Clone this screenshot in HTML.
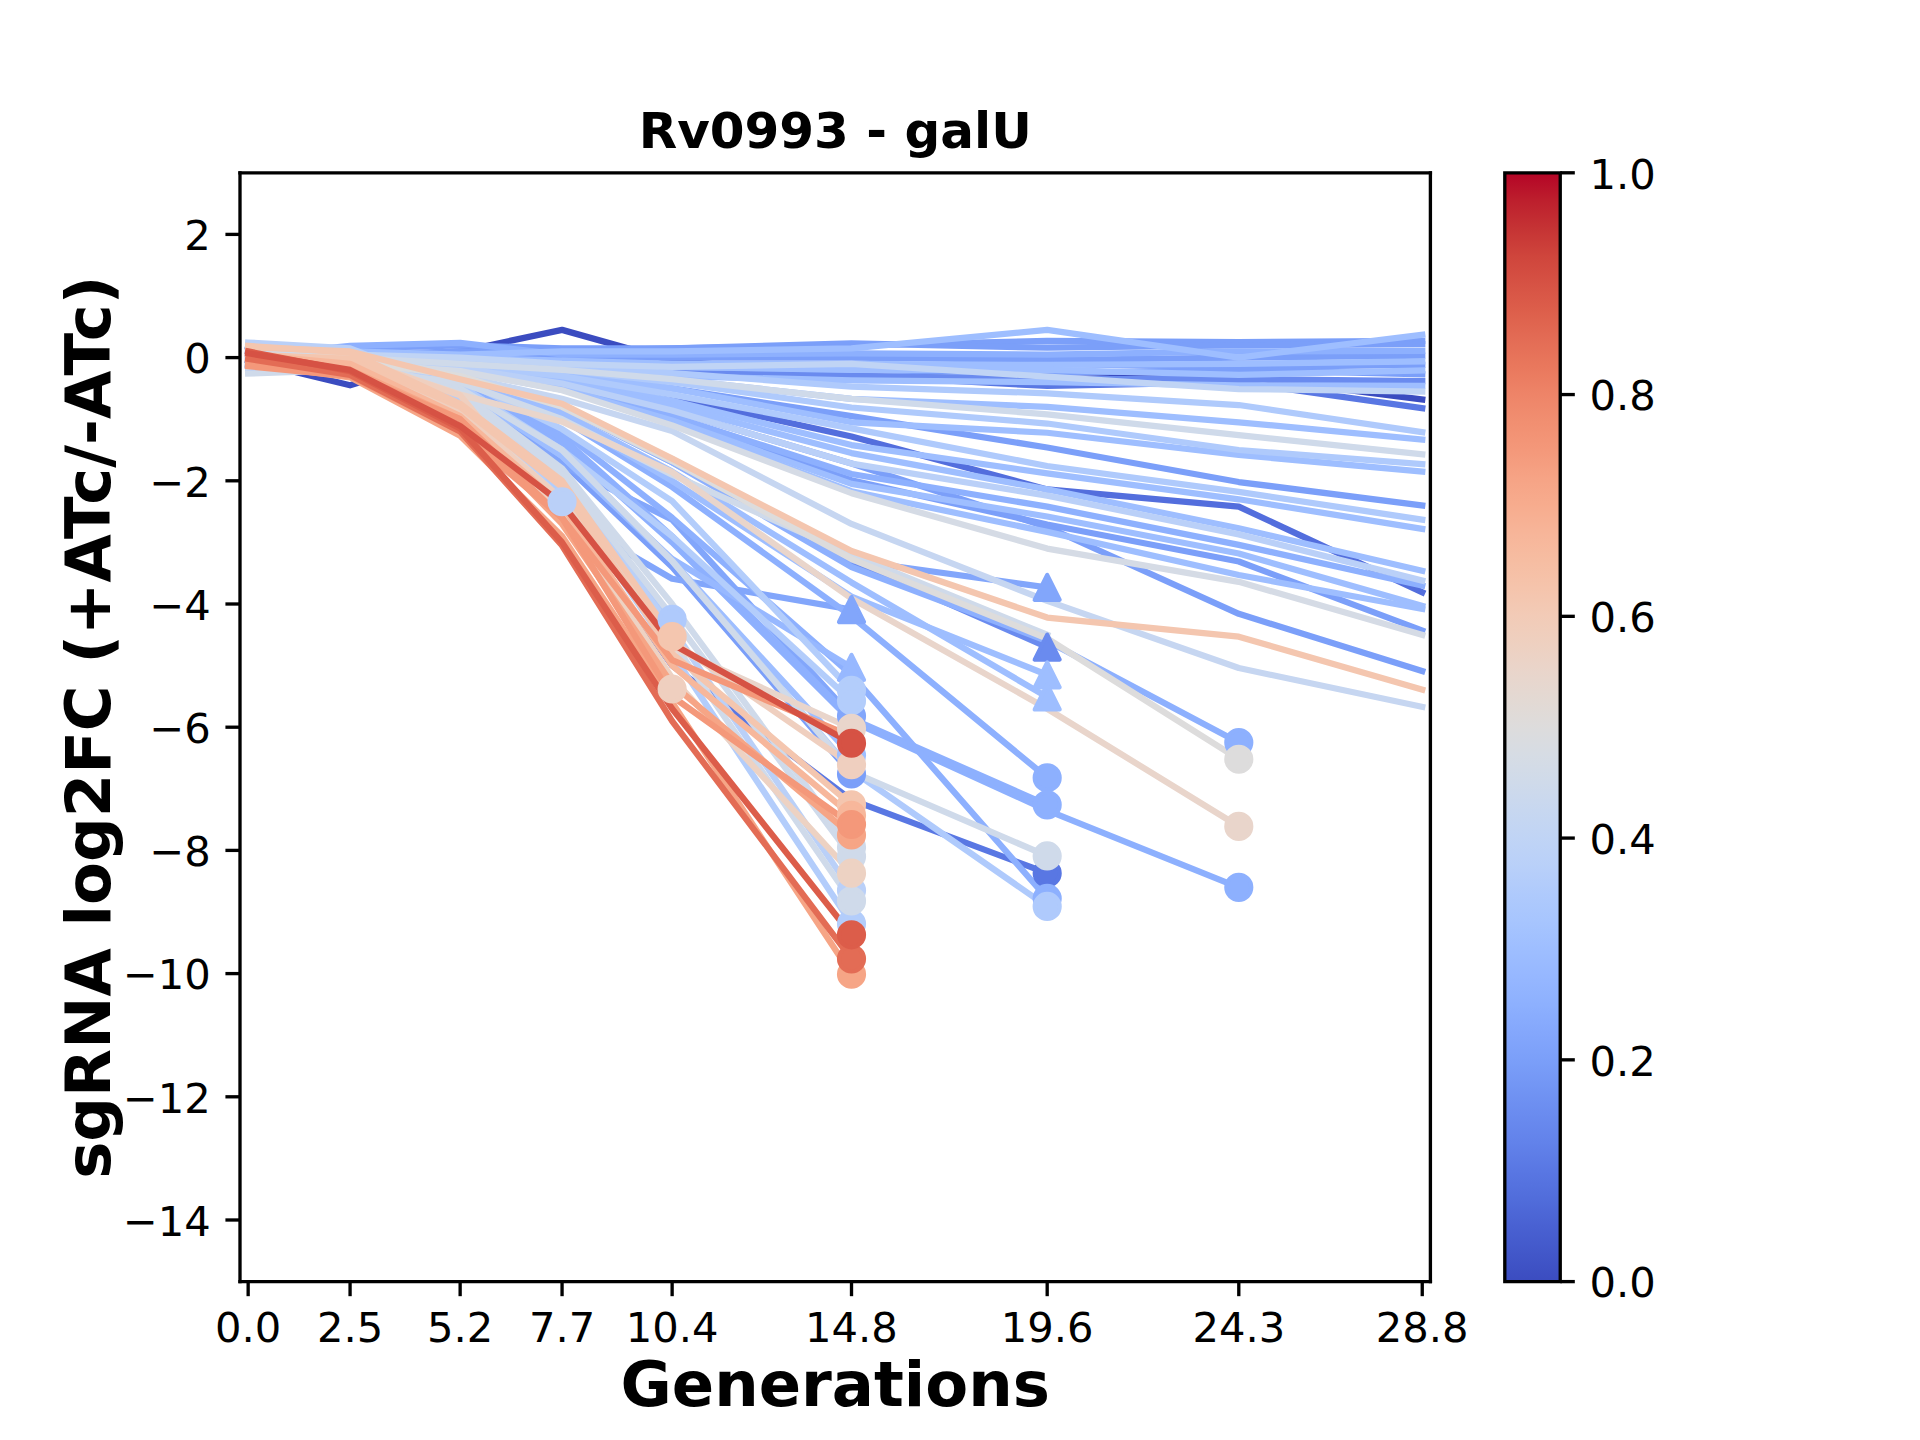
<!DOCTYPE html>
<html><head><meta charset="utf-8"><title>Rv0993 - galU</title>
<style>html,body{margin:0;padding:0;background:#fff;overflow:hidden}svg{display:block}</style></head>
<body>
<svg width="1920" height="1440" viewBox="0 0 460.8 345.6" version="1.1">
 
 <defs>
  <style type="text/css">*{stroke-linejoin: round; stroke-linecap: butt}</style>
 </defs>
 <g id="figure_1">
  <g id="patch_1">
   <path d="M 0 345.6 
L 460.8 345.6 
L 460.8 0 
L 0 0 
z
" style="fill: #ffffff"/>
  </g>
  <g id="axes_1">
   <g id="patch_2">
    <path d="M 57.6 307.584 
L 343.296 307.584 
L 343.296 41.472 
L 57.6 41.472 
z
" style="fill: #ffffff"/>
   </g>
   <g id="matplotlib.axis_1">
    <g id="xtick_1">
     <g id="line2d_1">
      
      <g>
       <path d="M 0 0 L 0 3.5" transform="translate(59.556822 307.584)" style="stroke: #000000; stroke-width: 0.8"/>
      </g>
     </g>
     <g id="text_1">
      <text style="font-size: 10px; font-family: 'DejaVu Sans', 'Liberation Sans', sans-serif; text-anchor: middle" x="59.556822" y="322.182437" transform="rotate(-0 59.556822 322.182437)">0.0</text>
     </g>
    </g>
    <g id="xtick_2">
     <g id="line2d_2">
      <g>
       <path d="M 0 0 L 0 3.5" transform="translate(84.017096 307.584)" style="stroke: #000000; stroke-width: 0.8"/>
      </g>
     </g>
     <g id="text_2">
      <text style="font-size: 10px; font-family: 'DejaVu Sans', 'Liberation Sans', sans-serif; text-anchor: middle" x="84.017096" y="322.182437" transform="rotate(-0 84.017096 322.182437)">2.5</text>
     </g>
    </g>
    <g id="xtick_3">
     <g id="line2d_3">
      <g>
       <path d="M 0 0 L 0 3.5" transform="translate(110.434192 307.584)" style="stroke: #000000; stroke-width: 0.8"/>
      </g>
     </g>
     <g id="text_3">
      <text style="font-size: 10px; font-family: 'DejaVu Sans', 'Liberation Sans', sans-serif; text-anchor: middle" x="110.434192" y="322.182437" transform="rotate(-0 110.434192 322.182437)">5.2</text>
     </g>
    </g>
    <g id="xtick_4">
     <g id="line2d_4">
      <g>
       <path d="M 0 0 L 0 3.5" transform="translate(134.894466 307.584)" style="stroke: #000000; stroke-width: 0.8"/>
      </g>
     </g>
     <g id="text_4">
      <text style="font-size: 10px; font-family: 'DejaVu Sans', 'Liberation Sans', sans-serif; text-anchor: middle" x="134.894466" y="322.182437" transform="rotate(-0 134.894466 322.182437)">7.7</text>
     </g>
    </g>
    <g id="xtick_5">
     <g id="line2d_5">
      <g>
       <path d="M 0 0 L 0 3.5" transform="translate(161.311562 307.584)" style="stroke: #000000; stroke-width: 0.8"/>
      </g>
     </g>
     <g id="text_5">
      <text style="font-size: 10px; font-family: 'DejaVu Sans', 'Liberation Sans', sans-serif; text-anchor: middle" x="161.311562" y="322.182437" transform="rotate(-0 161.311562 322.182437)">10.4</text>
     </g>
    </g>
    <g id="xtick_6">
     <g id="line2d_6">
      <g>
       <path d="M 0 0 L 0 3.5" transform="translate(204.361644 307.584)" style="stroke: #000000; stroke-width: 0.8"/>
      </g>
     </g>
     <g id="text_6">
      <text style="font-size: 10px; font-family: 'DejaVu Sans', 'Liberation Sans', sans-serif; text-anchor: middle" x="204.361644" y="322.182437" transform="rotate(-0 204.361644 322.182437)">14.8</text>
     </g>
    </g>
    <g id="xtick_7">
     <g id="line2d_7">
      <g>
       <path d="M 0 0 L 0 3.5" transform="translate(251.32537 307.584)" style="stroke: #000000; stroke-width: 0.8"/>
      </g>
     </g>
     <g id="text_7">
      <text style="font-size: 10px; font-family: 'DejaVu Sans', 'Liberation Sans', sans-serif; text-anchor: middle" x="251.32537" y="322.182437" transform="rotate(-0 251.32537 322.182437)">19.6</text>
     </g>
    </g>
    <g id="xtick_8">
     <g id="line2d_8">
      <g>
       <path d="M 0 0 L 0 3.5" transform="translate(297.310685 307.584)" style="stroke: #000000; stroke-width: 0.8"/>
      </g>
     </g>
     <g id="text_8">
      <text style="font-size: 10px; font-family: 'DejaVu Sans', 'Liberation Sans', sans-serif; text-anchor: middle" x="297.310685" y="322.182437" transform="rotate(-0 297.310685 322.182437)">24.3</text>
     </g>
    </g>
    <g id="xtick_9">
     <g id="line2d_9">
      <g>
       <path d="M 0 0 L 0 3.5" transform="translate(341.339178 307.584)" style="stroke: #000000; stroke-width: 0.8"/>
      </g>
     </g>
     <g id="text_9">
      <text style="font-size: 10px; font-family: 'DejaVu Sans', 'Liberation Sans', sans-serif; text-anchor: middle" x="341.339178" y="322.182437" transform="rotate(-0 341.339178 322.182437)">28.8</text>
     </g>
    </g>
    <g id="text_10">
     <text style="font-weight: 700; font-size: 15px; font-family: 'DejaVu Sans', 'Liberation Sans', sans-serif; text-anchor: middle" x="200.448" y="337.499781" transform="rotate(-0 200.448 337.499781)">Generations</text>
    </g>
   </g>
   <g id="matplotlib.axis_2">
    <g id="ytick_1">
     <g id="line2d_10">
      
      <g>
       <path d="M 0 0 L -3.5 0" transform="translate(57.6 292.8)" style="stroke: #000000; stroke-width: 0.8"/>
      </g>
     </g>
     <g id="text_11">
      <text style="font-size: 10px; font-family: 'DejaVu Sans', 'Liberation Sans', sans-serif; text-anchor: end" x="50.6" y="296.599219" transform="rotate(-0 50.6 296.599219)">−14</text>
     </g>
    </g>
    <g id="ytick_2">
     <g id="line2d_11">
      <g>
       <path d="M 0 0 L -3.5 0" transform="translate(57.6 263.232)" style="stroke: #000000; stroke-width: 0.8"/>
      </g>
     </g>
     <g id="text_12">
      <text style="font-size: 10px; font-family: 'DejaVu Sans', 'Liberation Sans', sans-serif; text-anchor: end" x="50.6" y="267.031219" transform="rotate(-0 50.6 267.031219)">−12</text>
     </g>
    </g>
    <g id="ytick_3">
     <g id="line2d_12">
      <g>
       <path d="M 0 0 L -3.5 0" transform="translate(57.6 233.664)" style="stroke: #000000; stroke-width: 0.8"/>
      </g>
     </g>
     <g id="text_13">
      <text style="font-size: 10px; font-family: 'DejaVu Sans', 'Liberation Sans', sans-serif; text-anchor: end" x="50.6" y="237.463219" transform="rotate(-0 50.6 237.463219)">−10</text>
     </g>
    </g>
    <g id="ytick_4">
     <g id="line2d_13">
      <g>
       <path d="M 0 0 L -3.5 0" transform="translate(57.6 204.096)" style="stroke: #000000; stroke-width: 0.8"/>
      </g>
     </g>
     <g id="text_14">
      <text style="font-size: 10px; font-family: 'DejaVu Sans', 'Liberation Sans', sans-serif; text-anchor: end" x="50.6" y="207.895219" transform="rotate(-0 50.6 207.895219)">−8</text>
     </g>
    </g>
    <g id="ytick_5">
     <g id="line2d_14">
      <g>
       <path d="M 0 0 L -3.5 0" transform="translate(57.6 174.528)" style="stroke: #000000; stroke-width: 0.8"/>
      </g>
     </g>
     <g id="text_15">
      <text style="font-size: 10px; font-family: 'DejaVu Sans', 'Liberation Sans', sans-serif; text-anchor: end" x="50.6" y="178.327219" transform="rotate(-0 50.6 178.327219)">−6</text>
     </g>
    </g>
    <g id="ytick_6">
     <g id="line2d_15">
      <g>
       <path d="M 0 0 L -3.5 0" transform="translate(57.6 144.96)" style="stroke: #000000; stroke-width: 0.8"/>
      </g>
     </g>
     <g id="text_16">
      <text style="font-size: 10px; font-family: 'DejaVu Sans', 'Liberation Sans', sans-serif; text-anchor: end" x="50.6" y="148.759219" transform="rotate(-0 50.6 148.759219)">−4</text>
     </g>
    </g>
    <g id="ytick_7">
     <g id="line2d_16">
      <g>
       <path d="M 0 0 L -3.5 0" transform="translate(57.6 115.392)" style="stroke: #000000; stroke-width: 0.8"/>
      </g>
     </g>
     <g id="text_17">
      <text style="font-size: 10px; font-family: 'DejaVu Sans', 'Liberation Sans', sans-serif; text-anchor: end" x="50.6" y="119.191219" transform="rotate(-0 50.6 119.191219)">−2</text>
     </g>
    </g>
    <g id="ytick_8">
     <g id="line2d_17">
      <g>
       <path d="M 0 0 L -3.5 0" transform="translate(57.6 85.824)" style="stroke: #000000; stroke-width: 0.8"/>
      </g>
     </g>
     <g id="text_18">
      <text style="font-size: 10px; font-family: 'DejaVu Sans', 'Liberation Sans', sans-serif; text-anchor: end" x="50.6" y="89.623219" transform="rotate(-0 50.6 89.623219)">0</text>
     </g>
    </g>
    <g id="ytick_9">
     <g id="line2d_18">
      <g>
       <path d="M 0 0 L -3.5 0" transform="translate(57.6 56.256)" style="stroke: #000000; stroke-width: 0.8"/>
      </g>
     </g>
     <g id="text_19">
      <text style="font-size: 10px; font-family: 'DejaVu Sans', 'Liberation Sans', sans-serif; text-anchor: end" x="50.6" y="60.055219" transform="rotate(-0 50.6 60.055219)">2</text>
     </g>
    </g>
    <g id="text_20">
     <text style="font-weight: 700; font-size: 15px; font-family: 'DejaVu Sans', 'Liberation Sans', sans-serif; text-anchor: middle" x="26.338594" y="174.528" transform="rotate(-90 26.338594 174.528)">sgRNA log2FC (+ATc/-ATc)</text>
    </g>
   </g>
   <g id="line2d_19">
    <path d="M 59.556822 86.5632 
L 84.017096 92.4768 
L 110.434192 84.3456 
L 134.894466 79.1712 
L 161.311562 86.5632 
L 204.361644 90.2592 
L 251.32537 90.9984 
L 297.310685 90.2592 
L 341.339178 95.87712 
" clip-path="url(#p991a9399cb)" style="fill: none; stroke: #3b4cc0; stroke-width: 1.5; stroke-linecap: square"/>
   </g>
   <g id="line2d_20">
    <path d="M 59.556822 83.074176 
L 84.017096 85.824 
L 110.434192 87.74592 
L 134.894466 90.40704 
L 161.311562 95.28576 
L 204.361644 104.74752 
L 251.32537 117.46176 
L 297.310685 121.60128 
L 341.339178 142.15104 
" clip-path="url(#p991a9399cb)" style="fill: none; stroke: #536edd; stroke-width: 1.5; stroke-linecap: square"/>
   </g>
   <g id="line2d_21">
    <path d="M 59.556822 86.5632 
L 84.017096 85.824 
L 110.434192 87.3024 
L 134.894466 88.7808 
L 161.311562 89.52 
L 204.361644 90.11136 
L 251.32537 92.62464 
L 297.310685 91.7376 
L 341.339178 97.94688 
" clip-path="url(#p991a9399cb)" style="fill: none; stroke: #5977e3; stroke-width: 1.5; stroke-linecap: square"/>
   </g>
   <g id="line2d_22">
    <path d="M 59.556822 83.118528 
L 84.017096 84.656064 
L 110.434192 99.1296 
L 134.894466 122.784 
L 161.311562 159.744 
L 204.361644 191.97312 
L 251.32537 209.56608 
" clip-path="url(#p991a9399cb)" style="fill: none; stroke: #5977e3; stroke-width: 1.5; stroke-linecap: square"/>
   </g>
   <g id="line2d_23">
    <path d="M 59.556822 86.030976 
L 84.017096 85.0848 
L 110.434192 86.5632 
L 134.894466 88.0416 
L 161.311562 89.52 
L 204.361644 90.2592 
L 251.32537 90.9984 
L 297.310685 90.9984 
L 341.339178 91.44192 
" clip-path="url(#p991a9399cb)" style="fill: none; stroke: #6a8bef; stroke-width: 1.5; stroke-linecap: square"/>
   </g>
   <g id="line2d_24">
    <path d="M 59.556822 82.881984 
L 84.017096 84.064704 
L 110.434192 90.2592 
L 134.894466 97.6512 
L 161.311562 110.2176 
L 204.361644 134.6112 
L 251.32537 155.3088 
" clip-path="url(#p991a9399cb)" style="fill: none; stroke: #6a8bef; stroke-width: 1.5; stroke-linecap: square"/>
   </g>
   <g id="line2d_25">
    <path d="M 59.556822 86.104896 
L 84.017096 83.6064 
L 110.434192 82.8672 
L 134.894466 83.6064 
L 161.311562 83.6064 
L 204.361644 82.8672 
L 251.32537 81.83232 
L 297.310685 82.128 
L 341.339178 81.83232 
" clip-path="url(#p991a9399cb)" style="fill: none; stroke: #7b9ff9; stroke-width: 1.5; stroke-linecap: square"/>
   </g>
   <g id="line2d_26">
    <path d="M 59.556822 84.3456 
L 84.017096 85.0848 
L 110.434192 84.3456 
L 134.894466 84.3456 
L 161.311562 83.6064 
L 204.361644 82.42368 
L 251.32537 83.45856 
L 297.310685 82.8672 
L 341.339178 82.57152 
" clip-path="url(#p991a9399cb)" style="fill: none; stroke: #7b9ff9; stroke-width: 1.5; stroke-linecap: square"/>
   </g>
   <g id="line2d_27">
    <path d="M 59.556822 85.0848 
L 84.017096 85.0848 
L 110.434192 85.824 
L 134.894466 85.824 
L 161.311562 85.824 
L 204.361644 85.824 
L 251.32537 86.41536 
L 297.310685 85.824 
L 341.339178 85.38048 
" clip-path="url(#p991a9399cb)" style="fill: none; stroke: #7b9ff9; stroke-width: 1.5; stroke-linecap: square"/>
   </g>
   <g id="line2d_28">
    <path d="M 59.556822 83.31072 
L 84.017096 85.0848 
L 110.434192 85.0848 
L 134.894466 87.3024 
L 161.311562 87.3024 
L 204.361644 88.0416 
L 251.32537 87.3024 
L 297.310685 88.0416 
L 341.339178 87.59808 
" clip-path="url(#p991a9399cb)" style="fill: none; stroke: #7b9ff9; stroke-width: 1.5; stroke-linecap: square"/>
   </g>
   <g id="line2d_29">
    <path d="M 59.556822 87.3024 
L 84.017096 85.824 
L 110.434192 84.3456 
L 134.894466 86.5632 
L 161.311562 88.0416 
L 204.361644 88.7808 
L 251.32537 89.52 
L 297.310685 88.7808 
L 341.339178 89.81568 
" clip-path="url(#p991a9399cb)" style="fill: none; stroke: #7b9ff9; stroke-width: 1.5; stroke-linecap: square"/>
   </g>
   <g id="line2d_30">
    <path d="M 59.556822 85.055232 
L 84.017096 85.0848 
L 110.434192 87.3024 
L 134.894466 89.52 
L 161.311562 93.216 
L 204.361644 99.8688 
L 251.32537 107.40864 
L 297.310685 115.68768 
L 341.339178 121.3056 
" clip-path="url(#p991a9399cb)" style="fill: none; stroke: #7b9ff9; stroke-width: 1.5; stroke-linecap: square"/>
   </g>
   <g id="line2d_31">
    <path d="M 59.556822 85.661376 
L 84.017096 87.805056 
L 110.434192 88.7808 
L 134.894466 92.92032 
L 161.311562 100.608 
L 204.361644 115.24416 
L 251.32537 125.88864 
L 297.310685 134.75904 
L 341.339178 151.31712 
" clip-path="url(#p991a9399cb)" style="fill: none; stroke: #7b9ff9; stroke-width: 1.5; stroke-linecap: square"/>
   </g>
   <g id="line2d_32">
    <path d="M 59.556822 88.603392 
L 84.017096 86.1936 
L 110.434192 88.33728 
L 134.894466 91.88544 
L 161.311562 98.53824 
L 204.361644 111.25248 
L 251.32537 126.48 
L 297.310685 147.32544 
L 341.339178 161.07456 
" clip-path="url(#p991a9399cb)" style="fill: none; stroke: #7b9ff9; stroke-width: 1.5; stroke-linecap: square"/>
   </g>
   <g id="line2d_33">
    <path d="M 59.556822 88.18944 
L 84.017096 87.805056 
L 110.434192 93.216 
L 134.894466 110.9568 
L 161.311562 136.0896 
L 204.361644 185.76384 
" clip-path="url(#p991a9399cb)" style="fill: none; stroke: #7b9ff9; stroke-width: 1.5; stroke-linecap: square"/>
   </g>
   <g id="line2d_34">
    <path d="M 59.556822 86.075328 
L 84.017096 86.9328 
L 110.434192 90.2592 
L 134.894466 97.6512 
L 161.311562 110.9568 
L 204.361644 134.46336 
L 251.32537 140.96832 
" clip-path="url(#p991a9399cb)" style="fill: none; stroke: #82a6fb; stroke-width: 1.5; stroke-linecap: square"/>
   </g>
   <g id="line2d_35">
    <path d="M 59.556822 82.985472 
L 84.017096 86.459712 
L 110.434192 96.1728 
L 134.894466 123.5232 
L 161.311562 138.89856 
L 204.361644 146.29056 
" clip-path="url(#p991a9399cb)" style="fill: none; stroke: #82a6fb; stroke-width: 1.5; stroke-linecap: square"/>
   </g>
   <g id="line2d_36">
    <path d="M 59.556822 83.074176 
L 84.017096 85.01088 
L 110.434192 91.7376 
L 134.894466 111.54816 
L 161.311562 124.70592 
L 204.361644 171.86688 
" clip-path="url(#p991a9399cb)" style="fill: none; stroke: #82a6fb; stroke-width: 1.5; stroke-linecap: square"/>
   </g>
   <g id="line2d_37">
    <path d="M 59.556822 85.469184 
L 84.017096 83.01504 
L 110.434192 82.27584 
L 134.894466 85.0848 
L 161.311562 85.0848 
L 204.361644 84.78912 
L 251.32537 85.0848 
L 297.310685 84.3456 
L 341.339178 84.19776 
" clip-path="url(#p991a9399cb)" style="fill: none; stroke: #8db0fe; stroke-width: 1.5; stroke-linecap: square"/>
   </g>
   <g id="line2d_38">
    <path d="M 59.556822 88.529472 
L 84.017096 84.12384 
L 110.434192 88.63296 
L 134.894466 92.4768 
L 161.311562 99.8688 
L 204.361644 113.76576 
L 251.32537 121.60128 
L 297.310685 130.76736 
L 341.339178 140.5248 
" clip-path="url(#p991a9399cb)" style="fill: none; stroke: #8db0fe; stroke-width: 1.5; stroke-linecap: square"/>
   </g>
   <g id="line2d_39">
    <path d="M 59.556822 85.705728 
L 84.017096 85.483968 
L 110.434192 90.2592 
L 134.894466 97.6512 
L 161.311562 110.9568 
L 204.361644 136.0896 
L 251.32537 153.8304 
L 297.310685 178.224 
" clip-path="url(#p991a9399cb)" style="fill: none; stroke: #8db0fe; stroke-width: 1.5; stroke-linecap: square"/>
   </g>
   <g id="line2d_40">
    <path d="M 59.556822 85.824 
L 84.017096 85.395264 
L 110.434192 93.216 
L 134.894466 106.5216 
L 161.311562 130.176 
L 204.361644 173.0496 
L 251.32537 194.4864 
L 297.310685 212.9664 
" clip-path="url(#p991a9399cb)" style="fill: none; stroke: #8db0fe; stroke-width: 1.5; stroke-linecap: square"/>
   </g>
   <g id="line2d_41">
    <path d="M 59.556822 87.065856 
L 84.017096 87.760704 
L 110.434192 90.9984 
L 134.894466 100.608 
L 161.311562 116.8704 
L 204.361644 147.9168 
L 251.32537 186.65088 
" clip-path="url(#p991a9399cb)" style="fill: none; stroke: #8db0fe; stroke-width: 1.5; stroke-linecap: square"/>
   </g>
   <g id="line2d_42">
    <path d="M 59.556822 84.242112 
L 84.017096 86.444928 
L 110.434192 92.4768 
L 134.894466 105.0432 
L 161.311562 128.6976 
L 204.361644 172.45824 
L 251.32537 193.15584 
" clip-path="url(#p991a9399cb)" style="fill: none; stroke: #8db0fe; stroke-width: 1.5; stroke-linecap: square"/>
   </g>
   <g id="line2d_43">
    <path d="M 59.556822 88.7808 
L 84.017096 87.198912 
L 110.434192 91.7376 
L 134.894466 103.5648 
L 161.311562 124.2624 
L 204.361644 161.9616 
L 251.32537 215.62752 
" clip-path="url(#p991a9399cb)" style="fill: none; stroke: #8db0fe; stroke-width: 1.5; stroke-linecap: square"/>
   </g>
   <g id="line2d_44">
    <path d="M 59.556822 88.352064 
L 84.017096 85.52832 
L 110.434192 92.4768 
L 134.894466 109.4784 
L 161.311562 134.16768 
L 204.361644 160.18752 
" clip-path="url(#p991a9399cb)" style="fill: none; stroke: #97b8ff; stroke-width: 1.5; stroke-linecap: square"/>
   </g>
   <g id="line2d_45">
    <path d="M 59.556822 85.0848 
L 84.017096 84.3456 
L 110.434192 85.0848 
L 134.894466 84.3456 
L 161.311562 84.3456 
L 204.361644 83.6064 
L 251.32537 79.1712 
L 297.310685 85.824 
L 341.339178 80.35392 
" clip-path="url(#p991a9399cb)" style="fill: none; stroke: #9ebeff; stroke-width: 1.5; stroke-linecap: square"/>
   </g>
   <g id="line2d_46">
    <path d="M 59.556822 86.5632 
L 84.017096 84.3456 
L 110.434192 85.824 
L 134.894466 86.5632 
L 161.311562 87.3024 
L 204.361644 87.3024 
L 251.32537 87.59808 
L 297.310685 87.3024 
L 341.339178 86.71104 
" clip-path="url(#p991a9399cb)" style="fill: none; stroke: #9ebeff; stroke-width: 1.5; stroke-linecap: square"/>
   </g>
   <g id="line2d_47">
    <path d="M 59.556822 84.3456 
L 84.017096 85.824 
L 110.434192 87.3024 
L 134.894466 87.3024 
L 161.311562 88.0416 
L 204.361644 88.7808 
L 251.32537 88.7808 
L 297.310685 89.96352 
L 341.339178 88.92864 
" clip-path="url(#p991a9399cb)" style="fill: none; stroke: #9ebeff; stroke-width: 1.5; stroke-linecap: square"/>
   </g>
   <g id="line2d_48">
    <path d="M 59.556822 85.0848 
L 84.017096 86.016192 
L 110.434192 86.5632 
L 134.894466 88.7808 
L 161.311562 90.2592 
L 204.361644 91.29408 
L 251.32537 91.7376 
L 297.310685 92.4768 
L 341.339178 92.62464 
" clip-path="url(#p991a9399cb)" style="fill: none; stroke: #9ebeff; stroke-width: 1.5; stroke-linecap: square"/>
   </g>
   <g id="line2d_49">
    <path d="M 59.556822 85.0848 
L 84.017096 85.824 
L 110.434192 86.85888 
L 134.894466 88.33728 
L 161.311562 90.9984 
L 204.361644 95.72928 
L 251.32537 97.6512 
L 297.310685 101.3472 
L 341.339178 105.48672 
" clip-path="url(#p991a9399cb)" style="fill: none; stroke: #9ebeff; stroke-width: 1.5; stroke-linecap: square"/>
   </g>
   <g id="line2d_50">
    <path d="M 59.556822 85.75008 
L 84.017096 85.824 
L 110.434192 87.3024 
L 134.894466 89.52 
L 161.311562 93.216 
L 204.361644 101.3472 
L 251.32537 103.86048 
L 297.310685 109.18272 
L 341.339178 113.1744 
" clip-path="url(#p991a9399cb)" style="fill: none; stroke: #9ebeff; stroke-width: 1.5; stroke-linecap: square"/>
   </g>
   <g id="line2d_51">
    <path d="M 59.556822 88.219008 
L 84.017096 85.824 
L 110.434192 87.89376 
L 134.894466 90.9984 
L 161.311562 96.1728 
L 204.361644 106.81728 
L 251.32537 113.61792 
L 297.310685 119.8272 
L 341.339178 126.92352 
" clip-path="url(#p991a9399cb)" style="fill: none; stroke: #9ebeff; stroke-width: 1.5; stroke-linecap: square"/>
   </g>
   <g id="line2d_52">
    <path d="M 59.556822 86.991936 
L 84.017096 87.686784 
L 110.434192 88.0416 
L 134.894466 91.44192 
L 161.311562 97.35552 
L 204.361644 108.7392 
L 251.32537 117.46176 
L 297.310685 126.77568 
L 341.339178 136.97664 
" clip-path="url(#p991a9399cb)" style="fill: none; stroke: #9ebeff; stroke-width: 1.5; stroke-linecap: square"/>
   </g>
   <g id="line2d_53">
    <path d="M 59.556822 84.907392 
L 84.017096 85.587456 
L 110.434192 88.7808 
L 134.894466 93.216 
L 161.311562 100.90368 
L 204.361644 116.1312 
L 251.32537 123.96672 
L 297.310685 132.83712 
L 341.339178 145.40352 
" clip-path="url(#p991a9399cb)" style="fill: none; stroke: #9ebeff; stroke-width: 1.5; stroke-linecap: square"/>
   </g>
   <g id="line2d_54">
    <path d="M 59.556822 87.849408 
L 84.017096 87.982464 
L 110.434192 89.07648 
L 134.894466 93.51168 
L 161.311562 101.79072 
L 204.361644 117.90528 
L 251.32537 127.66272 
L 297.310685 138.01152 
L 341.339178 146.14272 
" clip-path="url(#p991a9399cb)" style="fill: none; stroke: #9ebeff; stroke-width: 1.5; stroke-linecap: square"/>
   </g>
   <g id="line2d_55">
    <path d="M 59.556822 83.813376 
L 84.017096 85.217856 
L 110.434192 90.9984 
L 134.894466 99.8688 
L 161.311562 115.392 
L 204.361644 143.18592 
L 251.32537 161.9616 
" clip-path="url(#p991a9399cb)" style="fill: none; stroke: #9ebeff; stroke-width: 1.5; stroke-linecap: square"/>
   </g>
   <g id="line2d_56">
    <path d="M 59.556822 86.918016 
L 84.017096 87.124992 
L 110.434192 90.70272 
L 134.894466 99.1296 
L 161.311562 113.1744 
L 204.361644 139.7856 
L 251.32537 167.28384 
" clip-path="url(#p991a9399cb)" style="fill: none; stroke: #9ebeff; stroke-width: 1.5; stroke-linecap: square"/>
   </g>
   <g id="line2d_57">
    <path d="M 59.556822 88.085952 
L 84.017096 87.051072 
L 110.434192 93.216 
L 134.894466 109.4784 
L 161.311562 134.6112 
L 204.361644 181.32864 
" clip-path="url(#p991a9399cb)" style="fill: none; stroke: #9ebeff; stroke-width: 1.5; stroke-linecap: square"/>
   </g>
   <g id="line2d_58">
    <path d="M 59.556822 85.30656 
L 84.017096 85.0848 
L 110.434192 86.5632 
L 134.894466 87.59808 
L 161.311562 89.52 
L 204.361644 92.77248 
L 251.32537 94.39872 
L 297.310685 97.20768 
L 341.339178 103.71264 
" clip-path="url(#p991a9399cb)" style="fill: none; stroke: #afcafc; stroke-width: 1.5; stroke-linecap: square"/>
   </g>
   <g id="line2d_59">
    <path d="M 59.556822 87.686784 
L 84.017096 85.824 
L 110.434192 87.00672 
L 134.894466 88.7808 
L 161.311562 91.7376 
L 204.361644 97.79904 
L 251.32537 101.64288 
L 297.310685 108 
L 341.339178 111.40032 
" clip-path="url(#p991a9399cb)" style="fill: none; stroke: #afcafc; stroke-width: 1.5; stroke-linecap: square"/>
   </g>
   <g id="line2d_60">
    <path d="M 59.556822 84.094272 
L 84.017096 85.824 
L 110.434192 87.59808 
L 134.894466 90.2592 
L 161.311562 94.6944 
L 204.361644 102.8256 
L 251.32537 111.84384 
L 297.310685 118.05312 
L 341.339178 124.70592 
" clip-path="url(#p991a9399cb)" style="fill: none; stroke: #afcafc; stroke-width: 1.5; stroke-linecap: square"/>
   </g>
   <g id="line2d_61">
    <path d="M 59.556822 83.399424 
L 84.017096 86.164032 
L 110.434192 93.216 
L 134.894466 108 
L 161.311562 134.6112 
L 204.361644 184.8768 
L 251.32537 217.54944 
" clip-path="url(#p991a9399cb)" style="fill: none; stroke: #afcafc; stroke-width: 1.5; stroke-linecap: square"/>
   </g>
   <g id="line2d_62">
    <path d="M 59.556822 87.52416 
L 84.017096 86.962368 
L 110.434192 93.216 
L 134.894466 113.9136 
L 161.311562 148.656 
" clip-path="url(#p991a9399cb)" style="fill: none; stroke: #afcafc; stroke-width: 1.5; stroke-linecap: square"/>
   </g>
   <g id="line2d_63">
    <path d="M 59.556822 84.182976 
L 84.017096 86.962368 
L 110.434192 90.9984 
L 134.894466 102.97344 
L 161.311562 120.27072 
L 204.361644 165.6576 
" clip-path="url(#p991a9399cb)" style="fill: none; stroke: #b3cdfb; stroke-width: 1.5; stroke-linecap: square"/>
   </g>
   <g id="line2d_64">
    <path d="M 59.556822 88.26336 
L 84.017096 86.71104 
L 110.434192 92.4768 
L 134.894466 108 
L 161.311562 128.6976 
L 204.361644 168.17088 
" clip-path="url(#p991a9399cb)" style="fill: none; stroke: #b3cdfb; stroke-width: 1.5; stroke-linecap: square"/>
   </g>
   <g id="line2d_65">
    <path d="M 59.556822 88.085952 
L 84.017096 86.356224 
L 110.434192 95.4336 
L 134.894466 118.3488 
L 161.311562 156.7872 
L 204.361644 221.68896 
" clip-path="url(#p991a9399cb)" style="fill: none; stroke: #b3cdfb; stroke-width: 1.5; stroke-linecap: square"/>
   </g>
   <g id="line2d_66">
    <path d="M 59.556822 83.990784 
L 84.017096 85.276992 
L 110.434192 88.33728 
L 134.894466 92.03328 
L 161.311562 98.53824 
L 204.361644 111.25248 
L 251.32537 118.94016 
L 297.310685 128.25408 
L 341.339178 139.34208 
" clip-path="url(#p991a9399cb)" style="fill: none; stroke: #bad0f8; stroke-width: 1.5; stroke-linecap: square"/>
   </g>
   <g id="line2d_67">
    <path d="M 59.556822 87.657216 
L 84.017096 85.114368 
L 110.434192 94.6944 
L 134.894466 115.392 
L 161.311562 150.8736 
L 204.361644 213.7056 
" clip-path="url(#p991a9399cb)" style="fill: none; stroke: #bad0f8; stroke-width: 1.5; stroke-linecap: square"/>
   </g>
   <g id="line2d_68">
    <path d="M 59.556822 82.20192 
L 84.017096 83.6064 
L 110.434192 93.80736 
L 134.894466 120.41856 
" clip-path="url(#p991a9399cb)" style="fill: none; stroke: #bad0f8; stroke-width: 1.5; stroke-linecap: square"/>
   </g>
   <g id="line2d_69">
    <path d="M 59.556822 83.6064 
L 84.017096 85.0848 
L 110.434192 85.824 
L 134.894466 87.3024 
L 161.311562 88.0416 
L 204.361644 87.3024 
L 251.32537 90.40704 
L 297.310685 93.36384 
L 341.339178 93.9552 
" clip-path="url(#p991a9399cb)" style="fill: none; stroke: #c0d4f5; stroke-width: 1.5; stroke-linecap: square"/>
   </g>
   <g id="line2d_70">
    <path d="M 59.556822 86.178816 
L 84.017096 84.685632 
L 110.434192 90.2592 
L 134.894466 95.72928 
L 161.311562 103.41696 
L 204.361644 125.7408 
L 251.32537 144.2208 
L 297.310685 160.33536 
L 341.339178 169.64928 
" clip-path="url(#p991a9399cb)" style="fill: none; stroke: #c6d6f1; stroke-width: 1.5; stroke-linecap: square"/>
   </g>
   <g id="line2d_71">
    <path d="M 59.556822 84.3456 
L 84.017096 85.824 
L 110.434192 87.3024 
L 134.894466 88.7808 
L 161.311562 90.9984 
L 204.361644 95.72928 
L 251.32537 99.42528 
L 297.310685 104.45184 
L 341.339178 109.03488 
" clip-path="url(#p991a9399cb)" style="fill: none; stroke: #cfdaea; stroke-width: 1.5; stroke-linecap: square"/>
   </g>
   <g id="line2d_72">
    <path d="M 59.556822 83.769024 
L 84.017096 86.504064 
L 110.434192 93.216 
L 134.894466 108 
L 161.311562 134.6112 
L 204.361644 185.17248 
L 251.32537 205.42656 
" clip-path="url(#p991a9399cb)" style="fill: none; stroke: #cfdaea; stroke-width: 1.5; stroke-linecap: square"/>
   </g>
   <g id="line2d_73">
    <path d="M 59.556822 84.064704 
L 84.017096 87.331968 
L 110.434192 93.9552 
L 134.894466 112.4352 
L 161.311562 144.96 
L 204.361644 203.3568 
" clip-path="url(#p991a9399cb)" style="fill: none; stroke: #cfdaea; stroke-width: 1.5; stroke-linecap: square"/>
   </g>
   <g id="line2d_74">
    <path d="M 59.556822 85.469184 
L 84.017096 86.252736 
L 110.434192 93.9552 
L 134.894466 113.9136 
L 161.311562 147.9168 
L 204.361644 205.5744 
" clip-path="url(#p991a9399cb)" style="fill: none; stroke: #cfdaea; stroke-width: 1.5; stroke-linecap: square"/>
   </g>
   <g id="line2d_75">
    <path d="M 59.556822 88.012032 
L 84.017096 85.469184 
L 110.434192 94.6944 
L 134.894466 116.8704 
L 161.311562 153.8304 
L 204.361644 216.21888 
" clip-path="url(#p991a9399cb)" style="fill: none; stroke: #cfdaea; stroke-width: 1.5; stroke-linecap: square"/>
   </g>
   <g id="line2d_76">
    <path d="M 59.556822 89.66784 
L 84.017096 88.7808 
L 110.434192 91.7376 
L 134.894466 100.608 
L 161.311562 113.9136 
L 204.361644 133.1328 
L 251.32537 152.352 
" clip-path="url(#p991a9399cb)" style="fill: none; stroke: #cfdaea; stroke-width: 1.5; stroke-linecap: square"/>
   </g>
   <g id="line2d_77">
    <path d="M 59.556822 87.657216 
L 84.017096 87.08064 
L 110.434192 89.07648 
L 134.894466 93.65952 
L 161.311562 102.0864 
L 204.361644 118.3488 
L 251.32537 131.6544 
L 297.310685 139.63776 
L 341.339178 152.352 
" clip-path="url(#p991a9399cb)" style="fill: none; stroke: #d5dbe5; stroke-width: 1.5; stroke-linecap: square"/>
   </g>
   <g id="line2d_78">
    <path d="M 59.556822 85.824 
L 84.017096 86.5632 
L 110.434192 90.2592 
L 134.894466 97.6512 
L 161.311562 110.66112 
L 204.361644 134.16768 
L 251.32537 153.23904 
L 297.310685 182.21568 
" clip-path="url(#p991a9399cb)" style="fill: none; stroke: #dddcdc; stroke-width: 1.5; stroke-linecap: square"/>
   </g>
   <g id="line2d_79">
    <path d="M 59.556822 85.824 
L 84.017096 85.824 
L 110.434192 94.6944 
L 134.894466 101.19936 
L 161.311562 113.32224 
L 204.361644 143.62944 
L 251.32537 170.0928 
L 297.310685 198.33024 
" clip-path="url(#p991a9399cb)" style="fill: none; stroke: #e9d5cb; stroke-width: 1.5; stroke-linecap: square"/>
   </g>
   <g id="line2d_80">
    <path d="M 59.556822 85.824 
L 84.017096 85.52832 
L 110.434192 98.3904 
L 134.894466 119.8272 
L 161.311562 155.3088 
L 204.361644 174.82368 
" clip-path="url(#p991a9399cb)" style="fill: none; stroke: #e9d5cb; stroke-width: 1.5; stroke-linecap: square"/>
   </g>
   <g id="line2d_81">
    <path d="M 59.556822 86.5632 
L 84.017096 87.3024 
L 110.434192 99.1296 
L 134.894466 122.784 
L 161.311562 162.7008 
L 204.361644 209.56608 
" clip-path="url(#p991a9399cb)" style="fill: none; stroke: #edd2c3; stroke-width: 1.5; stroke-linecap: square"/>
   </g>
   <g id="line2d_82">
    <path d="M 59.556822 85.824 
L 84.017096 86.5632 
L 110.434192 99.1296 
L 134.894466 119.8272 
L 161.311562 153.8304 
L 204.361644 183.54624 
" clip-path="url(#p991a9399cb)" style="fill: none; stroke: #efcfbf; stroke-width: 1.5; stroke-linecap: square"/>
   </g>
   <g id="line2d_83">
    <path d="M 59.556822 85.824 
L 84.017096 85.824 
L 110.434192 94.84224 
L 134.894466 124.2624 
L 161.311562 165.36192 
" clip-path="url(#p991a9399cb)" style="fill: none; stroke: #efcfbf; stroke-width: 1.5; stroke-linecap: square"/>
   </g>
   <g id="line2d_84">
    <path d="M 59.556822 83.31072 
L 84.017096 84.3456 
L 110.434192 90.9984 
L 134.894466 96.912 
L 161.311562 110.06976 
L 204.361644 132.24576 
L 251.32537 148.21248 
L 297.310685 152.79552 
L 341.339178 165.50976 
" clip-path="url(#p991a9399cb)" style="fill: none; stroke: #f4c6af; stroke-width: 1.5; stroke-linecap: square"/>
   </g>
   <g id="line2d_85">
    <path d="M 59.556822 85.0848 
L 84.017096 86.11968 
L 110.434192 97.6512 
L 134.894466 116.8704 
L 161.311562 156.7872 
L 204.361644 193.15584 
" clip-path="url(#p991a9399cb)" style="fill: none; stroke: #f4c6af; stroke-width: 1.5; stroke-linecap: square"/>
   </g>
   <g id="line2d_86">
    <path d="M 59.556822 83.01504 
L 84.017096 84.64128 
L 110.434192 96.912 
L 134.894466 115.392 
L 161.311562 152.79552 
" clip-path="url(#p991a9399cb)" style="fill: none; stroke: #f4c6af; stroke-width: 1.5; stroke-linecap: square"/>
   </g>
   <g id="line2d_87">
    <path d="M 59.556822 85.0848 
L 84.017096 87.3024 
L 110.434192 99.8688 
L 134.894466 121.3056 
L 161.311562 159.744 
L 204.361644 195.66912 
" clip-path="url(#p991a9399cb)" style="fill: none; stroke: #f7b79b; stroke-width: 1.5; stroke-linecap: square"/>
   </g>
   <g id="line2d_88">
    <path d="M 59.556822 86.5632 
L 84.017096 88.7808 
L 110.434192 100.608 
L 134.894466 125.7408 
L 161.311562 164.1792 
L 204.361644 200.4 
" clip-path="url(#p991a9399cb)" style="fill: none; stroke: #f6a586; stroke-width: 1.5; stroke-linecap: square"/>
   </g>
   <g id="line2d_89">
    <path d="M 59.556822 87.3024 
L 84.017096 90.55488 
L 110.434192 104.59968 
L 134.894466 128.6976 
L 161.311562 168.6144 
L 204.361644 233.81184 
" clip-path="url(#p991a9399cb)" style="fill: none; stroke: #f6a586; stroke-width: 1.5; stroke-linecap: square"/>
   </g>
   <g id="line2d_90">
    <path d="M 59.556822 87.59808 
L 84.017096 89.52 
L 110.434192 100.608 
L 134.894466 124.2624 
L 161.311562 167.136 
L 204.361644 197.88672 
" clip-path="url(#p991a9399cb)" style="fill: none; stroke: #f4987a; stroke-width: 1.5; stroke-linecap: square"/>
   </g>
   <g id="line2d_91">
    <path d="M 59.556822 87.89376 
L 84.017096 90.2592 
L 110.434192 103.5648 
L 134.894466 124.2624 
L 161.311562 158.41344 
L 204.361644 176.7456 
" clip-path="url(#p991a9399cb)" style="fill: none; stroke: #f4987a; stroke-width: 1.5; stroke-linecap: square"/>
   </g>
   <g id="line2d_92">
    <path d="M 59.556822 86.11968 
L 84.017096 89.96352 
L 110.434192 103.5648 
L 134.894466 130.9152 
L 161.311562 173.0496 
L 204.361644 230.11584 
" clip-path="url(#p991a9399cb)" style="fill: none; stroke: #e36c55; stroke-width: 1.5; stroke-linecap: square"/>
   </g>
   <g id="line2d_93">
    <path d="M 59.556822 84.3456 
L 84.017096 89.07648 
L 110.434192 102.8256 
L 134.894466 130.176 
L 161.311562 170.0928 
L 204.361644 224.35008 
" clip-path="url(#p991a9399cb)" style="fill: none; stroke: #dc5d4a; stroke-width: 1.5; stroke-linecap: square"/>
   </g>
   <g id="line2d_94">
    <path d="M 59.556822 84.78912 
L 84.017096 88.7808 
L 110.434192 102.23424 
L 134.894466 120.86208 
L 161.311562 154.5696 
L 204.361644 178.37184 
" clip-path="url(#p991a9399cb)" style="fill: none; stroke: #d65244; stroke-width: 1.5; stroke-linecap: square"/>
   </g>
   <g id="line2d_95">
    
    <g clip-path="url(#p991a9399cb)">
     <path d="M 0 3 C 0.795609 3 1.55874 2.683901 2.12132 2.12132 C 2.683901 1.55874 3 0.795609 3 0 C 3 -0.795609 2.683901 -1.55874 2.12132 -2.12132 C 1.55874 -2.683901 0.795609 -3 0 -3 C -0.795609 -3 -1.55874 -2.683901 -2.12132 -2.12132 C -2.683901 -1.55874 -3 -0.795609 -3 0 C -3 0.795609 -2.683901 1.55874 -2.12132 2.12132 C -1.55874 2.683901 -0.795609 3 0 3 z" transform="translate(251.32537 209.56608)" style="fill: #5977e3; stroke: #5977e3"/>
    </g>
   </g>
   <g id="line2d_96">
    
    <g clip-path="url(#p991a9399cb)">
     <path d="M 0 -3 L -3 3 L 3 3 z" transform="translate(251.32537 155.3088)" style="fill: #6a8bef; stroke: #6a8bef"/>
    </g>
   </g>
   <g id="line2d_97">
    
    <g clip-path="url(#p991a9399cb)">
     <path d="M 0 3 C 0.795609 3 1.55874 2.683901 2.12132 2.12132 C 2.683901 1.55874 3 0.795609 3 0 C 3 -0.795609 2.683901 -1.55874 2.12132 -2.12132 C 1.55874 -2.683901 0.795609 -3 0 -3 C -0.795609 -3 -1.55874 -2.683901 -2.12132 -2.12132 C -2.683901 -1.55874 -3 -0.795609 -3 0 C -3 0.795609 -2.683901 1.55874 -2.12132 2.12132 C -1.55874 2.683901 -0.795609 3 0 3 z" transform="translate(204.361644 185.76384)" style="fill: #7b9ff9; stroke: #7b9ff9"/>
    </g>
   </g>
   <g id="line2d_98">
    
    <g clip-path="url(#p991a9399cb)">
     <path d="M 0 -3 L -3 3 L 3 3 z" transform="translate(251.32537 140.96832)" style="fill: #82a6fb; stroke: #82a6fb"/>
    </g>
   </g>
   <g id="line2d_99">
    <g clip-path="url(#p991a9399cb)">
     <path d="M 0 -3 L -3 3 L 3 3 z" transform="translate(204.361644 146.29056)" style="fill: #82a6fb; stroke: #82a6fb"/>
    </g>
   </g>
   <g id="line2d_100">
    
    <g clip-path="url(#p991a9399cb)">
     <path d="M 0 3 C 0.795609 3 1.55874 2.683901 2.12132 2.12132 C 2.683901 1.55874 3 0.795609 3 0 C 3 -0.795609 2.683901 -1.55874 2.12132 -2.12132 C 1.55874 -2.683901 0.795609 -3 0 -3 C -0.795609 -3 -1.55874 -2.683901 -2.12132 -2.12132 C -2.683901 -1.55874 -3 -0.795609 -3 0 C -3 0.795609 -2.683901 1.55874 -2.12132 2.12132 C -1.55874 2.683901 -0.795609 3 0 3 z" transform="translate(204.361644 171.86688)" style="fill: #82a6fb; stroke: #82a6fb"/>
    </g>
   </g>
   <g id="line2d_101">
    
    <g clip-path="url(#p991a9399cb)">
     <path d="M 0 3 C 0.795609 3 1.55874 2.683901 2.12132 2.12132 C 2.683901 1.55874 3 0.795609 3 0 C 3 -0.795609 2.683901 -1.55874 2.12132 -2.12132 C 1.55874 -2.683901 0.795609 -3 0 -3 C -0.795609 -3 -1.55874 -2.683901 -2.12132 -2.12132 C -2.683901 -1.55874 -3 -0.795609 -3 0 C -3 0.795609 -2.683901 1.55874 -2.12132 2.12132 C -1.55874 2.683901 -0.795609 3 0 3 z" transform="translate(297.310685 178.224)" style="fill: #8db0fe; stroke: #8db0fe"/>
    </g>
   </g>
   <g id="line2d_102">
    <g clip-path="url(#p991a9399cb)">
     <path d="M 0 3 C 0.795609 3 1.55874 2.683901 2.12132 2.12132 C 2.683901 1.55874 3 0.795609 3 0 C 3 -0.795609 2.683901 -1.55874 2.12132 -2.12132 C 1.55874 -2.683901 0.795609 -3 0 -3 C -0.795609 -3 -1.55874 -2.683901 -2.12132 -2.12132 C -2.683901 -1.55874 -3 -0.795609 -3 0 C -3 0.795609 -2.683901 1.55874 -2.12132 2.12132 C -1.55874 2.683901 -0.795609 3 0 3 z" transform="translate(297.310685 212.9664)" style="fill: #8db0fe; stroke: #8db0fe"/>
    </g>
   </g>
   <g id="line2d_103">
    <g clip-path="url(#p991a9399cb)">
     <path d="M 0 3 C 0.795609 3 1.55874 2.683901 2.12132 2.12132 C 2.683901 1.55874 3 0.795609 3 0 C 3 -0.795609 2.683901 -1.55874 2.12132 -2.12132 C 1.55874 -2.683901 0.795609 -3 0 -3 C -0.795609 -3 -1.55874 -2.683901 -2.12132 -2.12132 C -2.683901 -1.55874 -3 -0.795609 -3 0 C -3 0.795609 -2.683901 1.55874 -2.12132 2.12132 C -1.55874 2.683901 -0.795609 3 0 3 z" transform="translate(251.32537 186.65088)" style="fill: #8db0fe; stroke: #8db0fe"/>
    </g>
   </g>
   <g id="line2d_104">
    <g clip-path="url(#p991a9399cb)">
     <path d="M 0 3 C 0.795609 3 1.55874 2.683901 2.12132 2.12132 C 2.683901 1.55874 3 0.795609 3 0 C 3 -0.795609 2.683901 -1.55874 2.12132 -2.12132 C 1.55874 -2.683901 0.795609 -3 0 -3 C -0.795609 -3 -1.55874 -2.683901 -2.12132 -2.12132 C -2.683901 -1.55874 -3 -0.795609 -3 0 C -3 0.795609 -2.683901 1.55874 -2.12132 2.12132 C -1.55874 2.683901 -0.795609 3 0 3 z" transform="translate(251.32537 193.15584)" style="fill: #8db0fe; stroke: #8db0fe"/>
    </g>
   </g>
   <g id="line2d_105">
    <g clip-path="url(#p991a9399cb)">
     <path d="M 0 3 C 0.795609 3 1.55874 2.683901 2.12132 2.12132 C 2.683901 1.55874 3 0.795609 3 0 C 3 -0.795609 2.683901 -1.55874 2.12132 -2.12132 C 1.55874 -2.683901 0.795609 -3 0 -3 C -0.795609 -3 -1.55874 -2.683901 -2.12132 -2.12132 C -2.683901 -1.55874 -3 -0.795609 -3 0 C -3 0.795609 -2.683901 1.55874 -2.12132 2.12132 C -1.55874 2.683901 -0.795609 3 0 3 z" transform="translate(251.32537 215.62752)" style="fill: #8db0fe; stroke: #8db0fe"/>
    </g>
   </g>
   <g id="line2d_106">
    
    <g clip-path="url(#p991a9399cb)">
     <path d="M 0 -3 L -3 3 L 3 3 z" transform="translate(204.361644 160.18752)" style="fill: #97b8ff; stroke: #97b8ff"/>
    </g>
   </g>
   <g id="line2d_107">
    
    <g clip-path="url(#p991a9399cb)">
     <path d="M 0 -3 L -3 3 L 3 3 z" transform="translate(251.32537 161.9616)" style="fill: #9ebeff; stroke: #9ebeff"/>
    </g>
   </g>
   <g id="line2d_108">
    <g clip-path="url(#p991a9399cb)">
     <path d="M 0 -3 L -3 3 L 3 3 z" transform="translate(251.32537 167.28384)" style="fill: #9ebeff; stroke: #9ebeff"/>
    </g>
   </g>
   <g id="line2d_109">
    
    <g clip-path="url(#p991a9399cb)">
     <path d="M 0 3 C 0.795609 3 1.55874 2.683901 2.12132 2.12132 C 2.683901 1.55874 3 0.795609 3 0 C 3 -0.795609 2.683901 -1.55874 2.12132 -2.12132 C 1.55874 -2.683901 0.795609 -3 0 -3 C -0.795609 -3 -1.55874 -2.683901 -2.12132 -2.12132 C -2.683901 -1.55874 -3 -0.795609 -3 0 C -3 0.795609 -2.683901 1.55874 -2.12132 2.12132 C -1.55874 2.683901 -0.795609 3 0 3 z" transform="translate(204.361644 181.32864)" style="fill: #9ebeff; stroke: #9ebeff"/>
    </g>
   </g>
   <g id="line2d_110">
    
    <g clip-path="url(#p991a9399cb)">
     <path d="M 0 3 C 0.795609 3 1.55874 2.683901 2.12132 2.12132 C 2.683901 1.55874 3 0.795609 3 0 C 3 -0.795609 2.683901 -1.55874 2.12132 -2.12132 C 1.55874 -2.683901 0.795609 -3 0 -3 C -0.795609 -3 -1.55874 -2.683901 -2.12132 -2.12132 C -2.683901 -1.55874 -3 -0.795609 -3 0 C -3 0.795609 -2.683901 1.55874 -2.12132 2.12132 C -1.55874 2.683901 -0.795609 3 0 3 z" transform="translate(251.32537 217.54944)" style="fill: #afcafc; stroke: #afcafc"/>
    </g>
   </g>
   <g id="line2d_111">
    <g clip-path="url(#p991a9399cb)">
     <path d="M 0 3 C 0.795609 3 1.55874 2.683901 2.12132 2.12132 C 2.683901 1.55874 3 0.795609 3 0 C 3 -0.795609 2.683901 -1.55874 2.12132 -2.12132 C 1.55874 -2.683901 0.795609 -3 0 -3 C -0.795609 -3 -1.55874 -2.683901 -2.12132 -2.12132 C -2.683901 -1.55874 -3 -0.795609 -3 0 C -3 0.795609 -2.683901 1.55874 -2.12132 2.12132 C -1.55874 2.683901 -0.795609 3 0 3 z" transform="translate(161.311562 148.656)" style="fill: #afcafc; stroke: #afcafc"/>
    </g>
   </g>
   <g id="line2d_112">
    
    <g clip-path="url(#p991a9399cb)">
     <path d="M 0 3 C 0.795609 3 1.55874 2.683901 2.12132 2.12132 C 2.683901 1.55874 3 0.795609 3 0 C 3 -0.795609 2.683901 -1.55874 2.12132 -2.12132 C 1.55874 -2.683901 0.795609 -3 0 -3 C -0.795609 -3 -1.55874 -2.683901 -2.12132 -2.12132 C -2.683901 -1.55874 -3 -0.795609 -3 0 C -3 0.795609 -2.683901 1.55874 -2.12132 2.12132 C -1.55874 2.683901 -0.795609 3 0 3 z" transform="translate(204.361644 165.6576)" style="fill: #b3cdfb; stroke: #b3cdfb"/>
    </g>
   </g>
   <g id="line2d_113">
    <g clip-path="url(#p991a9399cb)">
     <path d="M 0 3 C 0.795609 3 1.55874 2.683901 2.12132 2.12132 C 2.683901 1.55874 3 0.795609 3 0 C 3 -0.795609 2.683901 -1.55874 2.12132 -2.12132 C 1.55874 -2.683901 0.795609 -3 0 -3 C -0.795609 -3 -1.55874 -2.683901 -2.12132 -2.12132 C -2.683901 -1.55874 -3 -0.795609 -3 0 C -3 0.795609 -2.683901 1.55874 -2.12132 2.12132 C -1.55874 2.683901 -0.795609 3 0 3 z" transform="translate(204.361644 168.17088)" style="fill: #b3cdfb; stroke: #b3cdfb"/>
    </g>
   </g>
   <g id="line2d_114">
    <g clip-path="url(#p991a9399cb)">
     <path d="M 0 3 C 0.795609 3 1.55874 2.683901 2.12132 2.12132 C 2.683901 1.55874 3 0.795609 3 0 C 3 -0.795609 2.683901 -1.55874 2.12132 -2.12132 C 1.55874 -2.683901 0.795609 -3 0 -3 C -0.795609 -3 -1.55874 -2.683901 -2.12132 -2.12132 C -2.683901 -1.55874 -3 -0.795609 -3 0 C -3 0.795609 -2.683901 1.55874 -2.12132 2.12132 C -1.55874 2.683901 -0.795609 3 0 3 z" transform="translate(204.361644 221.68896)" style="fill: #b3cdfb; stroke: #b3cdfb"/>
    </g>
   </g>
   <g id="line2d_115">
    
    <g clip-path="url(#p991a9399cb)">
     <path d="M 0 3 C 0.795609 3 1.55874 2.683901 2.12132 2.12132 C 2.683901 1.55874 3 0.795609 3 0 C 3 -0.795609 2.683901 -1.55874 2.12132 -2.12132 C 1.55874 -2.683901 0.795609 -3 0 -3 C -0.795609 -3 -1.55874 -2.683901 -2.12132 -2.12132 C -2.683901 -1.55874 -3 -0.795609 -3 0 C -3 0.795609 -2.683901 1.55874 -2.12132 2.12132 C -1.55874 2.683901 -0.795609 3 0 3 z" transform="translate(204.361644 213.7056)" style="fill: #bad0f8; stroke: #bad0f8"/>
    </g>
   </g>
   <g id="line2d_116">
    <g clip-path="url(#p991a9399cb)">
     <path d="M 0 3 C 0.795609 3 1.55874 2.683901 2.12132 2.12132 C 2.683901 1.55874 3 0.795609 3 0 C 3 -0.795609 2.683901 -1.55874 2.12132 -2.12132 C 1.55874 -2.683901 0.795609 -3 0 -3 C -0.795609 -3 -1.55874 -2.683901 -2.12132 -2.12132 C -2.683901 -1.55874 -3 -0.795609 -3 0 C -3 0.795609 -2.683901 1.55874 -2.12132 2.12132 C -1.55874 2.683901 -0.795609 3 0 3 z" transform="translate(134.894466 120.41856)" style="fill: #bad0f8; stroke: #bad0f8"/>
    </g>
   </g>
   <g id="line2d_117">
    
    <g clip-path="url(#p991a9399cb)">
     <path d="M 0 3 C 0.795609 3 1.55874 2.683901 2.12132 2.12132 C 2.683901 1.55874 3 0.795609 3 0 C 3 -0.795609 2.683901 -1.55874 2.12132 -2.12132 C 1.55874 -2.683901 0.795609 -3 0 -3 C -0.795609 -3 -1.55874 -2.683901 -2.12132 -2.12132 C -2.683901 -1.55874 -3 -0.795609 -3 0 C -3 0.795609 -2.683901 1.55874 -2.12132 2.12132 C -1.55874 2.683901 -0.795609 3 0 3 z" transform="translate(251.32537 205.42656)" style="fill: #cfdaea; stroke: #cfdaea"/>
    </g>
   </g>
   <g id="line2d_118">
    <g clip-path="url(#p991a9399cb)">
     <path d="M 0 3 C 0.795609 3 1.55874 2.683901 2.12132 2.12132 C 2.683901 1.55874 3 0.795609 3 0 C 3 -0.795609 2.683901 -1.55874 2.12132 -2.12132 C 1.55874 -2.683901 0.795609 -3 0 -3 C -0.795609 -3 -1.55874 -2.683901 -2.12132 -2.12132 C -2.683901 -1.55874 -3 -0.795609 -3 0 C -3 0.795609 -2.683901 1.55874 -2.12132 2.12132 C -1.55874 2.683901 -0.795609 3 0 3 z" transform="translate(204.361644 203.3568)" style="fill: #cfdaea; stroke: #cfdaea"/>
    </g>
   </g>
   <g id="line2d_119">
    <g clip-path="url(#p991a9399cb)">
     <path d="M 0 3 C 0.795609 3 1.55874 2.683901 2.12132 2.12132 C 2.683901 1.55874 3 0.795609 3 0 C 3 -0.795609 2.683901 -1.55874 2.12132 -2.12132 C 1.55874 -2.683901 0.795609 -3 0 -3 C -0.795609 -3 -1.55874 -2.683901 -2.12132 -2.12132 C -2.683901 -1.55874 -3 -0.795609 -3 0 C -3 0.795609 -2.683901 1.55874 -2.12132 2.12132 C -1.55874 2.683901 -0.795609 3 0 3 z" transform="translate(204.361644 205.5744)" style="fill: #cfdaea; stroke: #cfdaea"/>
    </g>
   </g>
   <g id="line2d_120">
    <g clip-path="url(#p991a9399cb)">
     <path d="M 0 3 C 0.795609 3 1.55874 2.683901 2.12132 2.12132 C 2.683901 1.55874 3 0.795609 3 0 C 3 -0.795609 2.683901 -1.55874 2.12132 -2.12132 C 1.55874 -2.683901 0.795609 -3 0 -3 C -0.795609 -3 -1.55874 -2.683901 -2.12132 -2.12132 C -2.683901 -1.55874 -3 -0.795609 -3 0 C -3 0.795609 -2.683901 1.55874 -2.12132 2.12132 C -1.55874 2.683901 -0.795609 3 0 3 z" transform="translate(204.361644 216.21888)" style="fill: #cfdaea; stroke: #cfdaea"/>
    </g>
   </g>
   <g id="line2d_121">
    
    <g clip-path="url(#p991a9399cb)">
     <path d="M 0 3 C 0.795609 3 1.55874 2.683901 2.12132 2.12132 C 2.683901 1.55874 3 0.795609 3 0 C 3 -0.795609 2.683901 -1.55874 2.12132 -2.12132 C 1.55874 -2.683901 0.795609 -3 0 -3 C -0.795609 -3 -1.55874 -2.683901 -2.12132 -2.12132 C -2.683901 -1.55874 -3 -0.795609 -3 0 C -3 0.795609 -2.683901 1.55874 -2.12132 2.12132 C -1.55874 2.683901 -0.795609 3 0 3 z" transform="translate(297.310685 182.21568)" style="fill: #dddcdc; stroke: #dddcdc"/>
    </g>
   </g>
   <g id="line2d_122">
    
    <g clip-path="url(#p991a9399cb)">
     <path d="M 0 3 C 0.795609 3 1.55874 2.683901 2.12132 2.12132 C 2.683901 1.55874 3 0.795609 3 0 C 3 -0.795609 2.683901 -1.55874 2.12132 -2.12132 C 1.55874 -2.683901 0.795609 -3 0 -3 C -0.795609 -3 -1.55874 -2.683901 -2.12132 -2.12132 C -2.683901 -1.55874 -3 -0.795609 -3 0 C -3 0.795609 -2.683901 1.55874 -2.12132 2.12132 C -1.55874 2.683901 -0.795609 3 0 3 z" transform="translate(297.310685 198.33024)" style="fill: #e9d5cb; stroke: #e9d5cb"/>
    </g>
   </g>
   <g id="line2d_123">
    <g clip-path="url(#p991a9399cb)">
     <path d="M 0 3 C 0.795609 3 1.55874 2.683901 2.12132 2.12132 C 2.683901 1.55874 3 0.795609 3 0 C 3 -0.795609 2.683901 -1.55874 2.12132 -2.12132 C 1.55874 -2.683901 0.795609 -3 0 -3 C -0.795609 -3 -1.55874 -2.683901 -2.12132 -2.12132 C -2.683901 -1.55874 -3 -0.795609 -3 0 C -3 0.795609 -2.683901 1.55874 -2.12132 2.12132 C -1.55874 2.683901 -0.795609 3 0 3 z" transform="translate(204.361644 174.82368)" style="fill: #e9d5cb; stroke: #e9d5cb"/>
    </g>
   </g>
   <g id="line2d_124">
    
    <g clip-path="url(#p991a9399cb)">
     <path d="M 0 3 C 0.795609 3 1.55874 2.683901 2.12132 2.12132 C 2.683901 1.55874 3 0.795609 3 0 C 3 -0.795609 2.683901 -1.55874 2.12132 -2.12132 C 1.55874 -2.683901 0.795609 -3 0 -3 C -0.795609 -3 -1.55874 -2.683901 -2.12132 -2.12132 C -2.683901 -1.55874 -3 -0.795609 -3 0 C -3 0.795609 -2.683901 1.55874 -2.12132 2.12132 C -1.55874 2.683901 -0.795609 3 0 3 z" transform="translate(204.361644 209.56608)" style="fill: #edd2c3; stroke: #edd2c3"/>
    </g>
   </g>
   <g id="line2d_125">
    
    <g clip-path="url(#p991a9399cb)">
     <path d="M 0 3 C 0.795609 3 1.55874 2.683901 2.12132 2.12132 C 2.683901 1.55874 3 0.795609 3 0 C 3 -0.795609 2.683901 -1.55874 2.12132 -2.12132 C 1.55874 -2.683901 0.795609 -3 0 -3 C -0.795609 -3 -1.55874 -2.683901 -2.12132 -2.12132 C -2.683901 -1.55874 -3 -0.795609 -3 0 C -3 0.795609 -2.683901 1.55874 -2.12132 2.12132 C -1.55874 2.683901 -0.795609 3 0 3 z" transform="translate(204.361644 183.54624)" style="fill: #efcfbf; stroke: #efcfbf"/>
    </g>
   </g>
   <g id="line2d_126">
    <g clip-path="url(#p991a9399cb)">
     <path d="M 0 3 C 0.795609 3 1.55874 2.683901 2.12132 2.12132 C 2.683901 1.55874 3 0.795609 3 0 C 3 -0.795609 2.683901 -1.55874 2.12132 -2.12132 C 1.55874 -2.683901 0.795609 -3 0 -3 C -0.795609 -3 -1.55874 -2.683901 -2.12132 -2.12132 C -2.683901 -1.55874 -3 -0.795609 -3 0 C -3 0.795609 -2.683901 1.55874 -2.12132 2.12132 C -1.55874 2.683901 -0.795609 3 0 3 z" transform="translate(161.311562 165.36192)" style="fill: #efcfbf; stroke: #efcfbf"/>
    </g>
   </g>
   <g id="line2d_127">
    
    <g clip-path="url(#p991a9399cb)">
     <path d="M 0 3 C 0.795609 3 1.55874 2.683901 2.12132 2.12132 C 2.683901 1.55874 3 0.795609 3 0 C 3 -0.795609 2.683901 -1.55874 2.12132 -2.12132 C 1.55874 -2.683901 0.795609 -3 0 -3 C -0.795609 -3 -1.55874 -2.683901 -2.12132 -2.12132 C -2.683901 -1.55874 -3 -0.795609 -3 0 C -3 0.795609 -2.683901 1.55874 -2.12132 2.12132 C -1.55874 2.683901 -0.795609 3 0 3 z" transform="translate(204.361644 193.15584)" style="fill: #f4c6af; stroke: #f4c6af"/>
    </g>
   </g>
   <g id="line2d_128">
    <g clip-path="url(#p991a9399cb)">
     <path d="M 0 3 C 0.795609 3 1.55874 2.683901 2.12132 2.12132 C 2.683901 1.55874 3 0.795609 3 0 C 3 -0.795609 2.683901 -1.55874 2.12132 -2.12132 C 1.55874 -2.683901 0.795609 -3 0 -3 C -0.795609 -3 -1.55874 -2.683901 -2.12132 -2.12132 C -2.683901 -1.55874 -3 -0.795609 -3 0 C -3 0.795609 -2.683901 1.55874 -2.12132 2.12132 C -1.55874 2.683901 -0.795609 3 0 3 z" transform="translate(161.311562 152.79552)" style="fill: #f4c6af; stroke: #f4c6af"/>
    </g>
   </g>
   <g id="line2d_129">
    
    <g clip-path="url(#p991a9399cb)">
     <path d="M 0 3 C 0.795609 3 1.55874 2.683901 2.12132 2.12132 C 2.683901 1.55874 3 0.795609 3 0 C 3 -0.795609 2.683901 -1.55874 2.12132 -2.12132 C 1.55874 -2.683901 0.795609 -3 0 -3 C -0.795609 -3 -1.55874 -2.683901 -2.12132 -2.12132 C -2.683901 -1.55874 -3 -0.795609 -3 0 C -3 0.795609 -2.683901 1.55874 -2.12132 2.12132 C -1.55874 2.683901 -0.795609 3 0 3 z" transform="translate(204.361644 195.66912)" style="fill: #f7b79b; stroke: #f7b79b"/>
    </g>
   </g>
   <g id="line2d_130">
    
    <g clip-path="url(#p991a9399cb)">
     <path d="M 0 3 C 0.795609 3 1.55874 2.683901 2.12132 2.12132 C 2.683901 1.55874 3 0.795609 3 0 C 3 -0.795609 2.683901 -1.55874 2.12132 -2.12132 C 1.55874 -2.683901 0.795609 -3 0 -3 C -0.795609 -3 -1.55874 -2.683901 -2.12132 -2.12132 C -2.683901 -1.55874 -3 -0.795609 -3 0 C -3 0.795609 -2.683901 1.55874 -2.12132 2.12132 C -1.55874 2.683901 -0.795609 3 0 3 z" transform="translate(204.361644 200.4)" style="fill: #f6a586; stroke: #f6a586"/>
    </g>
   </g>
   <g id="line2d_131">
    <g clip-path="url(#p991a9399cb)">
     <path d="M 0 3 C 0.795609 3 1.55874 2.683901 2.12132 2.12132 C 2.683901 1.55874 3 0.795609 3 0 C 3 -0.795609 2.683901 -1.55874 2.12132 -2.12132 C 1.55874 -2.683901 0.795609 -3 0 -3 C -0.795609 -3 -1.55874 -2.683901 -2.12132 -2.12132 C -2.683901 -1.55874 -3 -0.795609 -3 0 C -3 0.795609 -2.683901 1.55874 -2.12132 2.12132 C -1.55874 2.683901 -0.795609 3 0 3 z" transform="translate(204.361644 233.81184)" style="fill: #f6a586; stroke: #f6a586"/>
    </g>
   </g>
   <g id="line2d_132">
    
    <g clip-path="url(#p991a9399cb)">
     <path d="M 0 3 C 0.795609 3 1.55874 2.683901 2.12132 2.12132 C 2.683901 1.55874 3 0.795609 3 0 C 3 -0.795609 2.683901 -1.55874 2.12132 -2.12132 C 1.55874 -2.683901 0.795609 -3 0 -3 C -0.795609 -3 -1.55874 -2.683901 -2.12132 -2.12132 C -2.683901 -1.55874 -3 -0.795609 -3 0 C -3 0.795609 -2.683901 1.55874 -2.12132 2.12132 C -1.55874 2.683901 -0.795609 3 0 3 z" transform="translate(204.361644 197.88672)" style="fill: #f4987a; stroke: #f4987a"/>
    </g>
   </g>
   <g id="line2d_133">
    
    <g clip-path="url(#p991a9399cb)">
     <path d="M 0 3 C 0.795609 3 1.55874 2.683901 2.12132 2.12132 C 2.683901 1.55874 3 0.795609 3 0 C 3 -0.795609 2.683901 -1.55874 2.12132 -2.12132 C 1.55874 -2.683901 0.795609 -3 0 -3 C -0.795609 -3 -1.55874 -2.683901 -2.12132 -2.12132 C -2.683901 -1.55874 -3 -0.795609 -3 0 C -3 0.795609 -2.683901 1.55874 -2.12132 2.12132 C -1.55874 2.683901 -0.795609 3 0 3 z" transform="translate(204.361644 230.11584)" style="fill: #e36c55; stroke: #e36c55"/>
    </g>
   </g>
   <g id="line2d_134">
    
    <g clip-path="url(#p991a9399cb)">
     <path d="M 0 3 C 0.795609 3 1.55874 2.683901 2.12132 2.12132 C 2.683901 1.55874 3 0.795609 3 0 C 3 -0.795609 2.683901 -1.55874 2.12132 -2.12132 C 1.55874 -2.683901 0.795609 -3 0 -3 C -0.795609 -3 -1.55874 -2.683901 -2.12132 -2.12132 C -2.683901 -1.55874 -3 -0.795609 -3 0 C -3 0.795609 -2.683901 1.55874 -2.12132 2.12132 C -1.55874 2.683901 -0.795609 3 0 3 z" transform="translate(204.361644 224.35008)" style="fill: #dc5d4a; stroke: #dc5d4a"/>
    </g>
   </g>
   <g id="line2d_135">
    
    <g clip-path="url(#p991a9399cb)">
     <path d="M 0 3 C 0.795609 3 1.55874 2.683901 2.12132 2.12132 C 2.683901 1.55874 3 0.795609 3 0 C 3 -0.795609 2.683901 -1.55874 2.12132 -2.12132 C 1.55874 -2.683901 0.795609 -3 0 -3 C -0.795609 -3 -1.55874 -2.683901 -2.12132 -2.12132 C -2.683901 -1.55874 -3 -0.795609 -3 0 C -3 0.795609 -2.683901 1.55874 -2.12132 2.12132 C -1.55874 2.683901 -0.795609 3 0 3 z" transform="translate(204.361644 178.37184)" style="fill: #d65244; stroke: #d65244"/>
    </g>
   </g>
   <g id="patch_3">
    <path d="M 57.6 307.584 
L 57.6 41.472 
" style="fill: none; stroke: #000000; stroke-width: 0.8; stroke-linejoin: miter; stroke-linecap: square"/>
   </g>
   <g id="patch_4">
    <path d="M 343.296 307.584 
L 343.296 41.472 
" style="fill: none; stroke: #000000; stroke-width: 0.8; stroke-linejoin: miter; stroke-linecap: square"/>
   </g>
   <g id="patch_5">
    <path d="M 57.6 307.584 
L 343.296 307.584 
" style="fill: none; stroke: #000000; stroke-width: 0.8; stroke-linejoin: miter; stroke-linecap: square"/>
   </g>
   <g id="patch_6">
    <path d="M 57.6 41.472 
L 343.296 41.472 
" style="fill: none; stroke: #000000; stroke-width: 0.8; stroke-linejoin: miter; stroke-linecap: square"/>
   </g>
   <g id="text_21">
    <text style="font-weight: 700; font-size: 12px; font-family: 'DejaVu Sans', 'Liberation Sans', sans-serif; text-anchor: middle" x="200.448" y="35.472" transform="rotate(-0 200.448 35.472)">Rv0993 - galU</text>
   </g>
  </g>
  <g id="axes_2">
   <g id="patch_7">
    <path d="M 361.152 307.584 
L 374.4576 307.584 
L 374.4576 41.472 
L 361.152 41.472 
z
" style="fill: #ffffff"/>
   </g>
   <defs><linearGradient id="cbgrad" x1="0" y1="1" x2="0" y2="0"><stop offset="0.0000" stop-color="#3b4cc0"/><stop offset="0.0250" stop-color="#4257c9"/><stop offset="0.0500" stop-color="#4961d2"/><stop offset="0.0750" stop-color="#516ddb"/><stop offset="0.1000" stop-color="#5977e3"/><stop offset="0.1250" stop-color="#6282ea"/><stop offset="0.1500" stop-color="#6a8bef"/><stop offset="0.1750" stop-color="#7295f4"/><stop offset="0.2000" stop-color="#7b9ff9"/><stop offset="0.2250" stop-color="#84a7fc"/><stop offset="0.2500" stop-color="#8db0fe"/><stop offset="0.2750" stop-color="#96b7ff"/><stop offset="0.3000" stop-color="#9ebeff"/><stop offset="0.3250" stop-color="#a7c5fe"/><stop offset="0.3500" stop-color="#afcafc"/><stop offset="0.3750" stop-color="#b9d0f9"/><stop offset="0.4000" stop-color="#c0d4f5"/><stop offset="0.4250" stop-color="#c7d7f0"/><stop offset="0.4500" stop-color="#cfdaea"/><stop offset="0.4750" stop-color="#d6dce4"/><stop offset="0.5000" stop-color="#dddcdc"/><stop offset="0.5250" stop-color="#e3d9d3"/><stop offset="0.5500" stop-color="#e9d5cb"/><stop offset="0.5750" stop-color="#eed0c0"/><stop offset="0.6000" stop-color="#f2cbb7"/><stop offset="0.6250" stop-color="#f5c4ac"/><stop offset="0.6500" stop-color="#f6bda2"/><stop offset="0.6750" stop-color="#f7b599"/><stop offset="0.7000" stop-color="#f7ac8e"/><stop offset="0.7250" stop-color="#f6a385"/><stop offset="0.7500" stop-color="#f4987a"/><stop offset="0.7750" stop-color="#f18f71"/><stop offset="0.8000" stop-color="#ee8468"/><stop offset="0.8250" stop-color="#e9785d"/><stop offset="0.8500" stop-color="#e36c55"/><stop offset="0.8750" stop-color="#dd5f4b"/><stop offset="0.9000" stop-color="#d65244"/><stop offset="0.9250" stop-color="#cf453c"/><stop offset="0.9500" stop-color="#c53334"/><stop offset="0.9750" stop-color="#bd1f2d"/><stop offset="1.0000" stop-color="#b40426"/></linearGradient></defs><rect x="361.152" y="41.472" width="13.3056" height="266.112" fill="url(#cbgrad)"/>
   <g id="matplotlib.axis_3"/>
   <g id="matplotlib.axis_4">
    <g id="ytick_10">
     <g id="line2d_136">
      
      <g>
       <path d="M 0 0 L 3.5 0" transform="translate(374.4576 307.584)" style="stroke: #000000; stroke-width: 0.8"/>
      </g>
     </g>
     <g id="text_22">
      <text style="font-size: 10px; font-family: 'DejaVu Sans', 'Liberation Sans', sans-serif; text-anchor: start" x="381.4576" y="311.383219" transform="rotate(-0 381.4576 311.383219)">0.0</text>
     </g>
    </g>
    <g id="ytick_11">
     <g id="line2d_137">
      <g>
       <path d="M 0 0 L 3.5 0" transform="translate(374.4576 254.3616)" style="stroke: #000000; stroke-width: 0.8"/>
      </g>
     </g>
     <g id="text_23">
      <text style="font-size: 10px; font-family: 'DejaVu Sans', 'Liberation Sans', sans-serif; text-anchor: start" x="381.4576" y="258.160819" transform="rotate(-0 381.4576 258.160819)">0.2</text>
     </g>
    </g>
    <g id="ytick_12">
     <g id="line2d_138">
      <g>
       <path d="M 0 0 L 3.5 0" transform="translate(374.4576 201.1392)" style="stroke: #000000; stroke-width: 0.8"/>
      </g>
     </g>
     <g id="text_24">
      <text style="font-size: 10px; font-family: 'DejaVu Sans', 'Liberation Sans', sans-serif; text-anchor: start" x="381.4576" y="204.938419" transform="rotate(-0 381.4576 204.938419)">0.4</text>
     </g>
    </g>
    <g id="ytick_13">
     <g id="line2d_139">
      <g>
       <path d="M 0 0 L 3.5 0" transform="translate(374.4576 147.9168)" style="stroke: #000000; stroke-width: 0.8"/>
      </g>
     </g>
     <g id="text_25">
      <text style="font-size: 10px; font-family: 'DejaVu Sans', 'Liberation Sans', sans-serif; text-anchor: start" x="381.4576" y="151.716019" transform="rotate(-0 381.4576 151.716019)">0.6</text>
     </g>
    </g>
    <g id="ytick_14">
     <g id="line2d_140">
      <g>
       <path d="M 0 0 L 3.5 0" transform="translate(374.4576 94.6944)" style="stroke: #000000; stroke-width: 0.8"/>
      </g>
     </g>
     <g id="text_26">
      <text style="font-size: 10px; font-family: 'DejaVu Sans', 'Liberation Sans', sans-serif; text-anchor: start" x="381.4576" y="98.493619" transform="rotate(-0 381.4576 98.493619)">0.8</text>
     </g>
    </g>
    <g id="ytick_15">
     <g id="line2d_141">
      <g>
       <path d="M 0 0 L 3.5 0" transform="translate(374.4576 41.472)" style="stroke: #000000; stroke-width: 0.8"/>
      </g>
     </g>
     <g id="text_27">
      <text style="font-size: 10px; font-family: 'DejaVu Sans', 'Liberation Sans', sans-serif; text-anchor: start" x="381.4576" y="45.271219" transform="rotate(-0 381.4576 45.271219)">1.0</text>
     </g>
    </g>
   </g>
   <g id="LineCollection_1"/>
   <g id="patch_8">
    <path d="M 361.152 307.584 
L 367.8048 307.584 
L 374.4576 307.584 
L 374.4576 41.472 
L 367.8048 41.472 
L 361.152 41.472 
L 361.152 307.584 
z
" style="fill: none; stroke: #000000; stroke-width: 0.8; stroke-linejoin: miter; stroke-linecap: square"/>
   </g>
  </g>
 </g>
 <defs>
  <clipPath id="p991a9399cb">
   <rect x="57.6" y="41.472" width="285.696" height="266.112"/>
  </clipPath>
 </defs>
</svg>

</body></html>
